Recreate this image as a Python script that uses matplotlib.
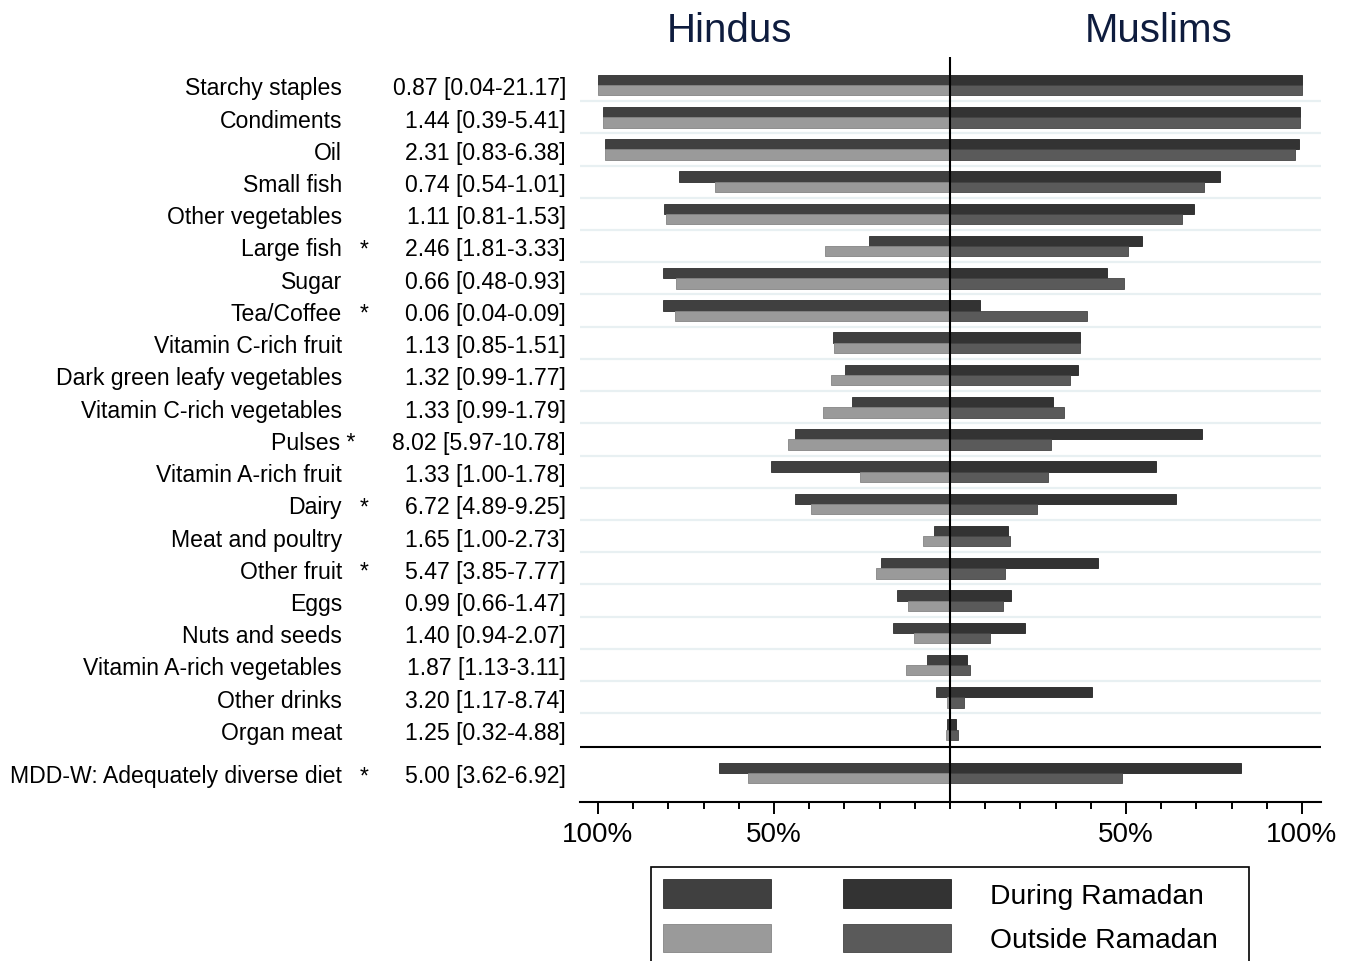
import matplotlib
matplotlib.use("Agg")
import matplotlib.pyplot as plt
import matplotlib.transforms as mtransforms
from matplotlib.patches import Rectangle
import numpy as np

plt.rcParams['font.family'] = ['Liberation Sans', 'DejaVu Sans']

# ---------------- data ----------------
categories = ["Starchy staples", "Condiments", "Oil", "Small fish", "Other vegetables",
              "Large fish", "Sugar", "Tea/Coffee", "Vitamin C-rich fruit",
              "Dark green leafy vegetables", "Vitamin C-rich vegetables", "Pulses *",
              "Vitamin A-rich fruit", "Dairy", "Meat and poultry", "Other fruit", "Eggs",
              "Nuts and seeds", "Vitamin A-rich vegetables", "Other drinks", "Organ meat",
              "MDD-W: Adequately diverse diet"]
starred = [0, 0, 0, 0, 0, 1, 0, 1, 0, 0, 0, 0, 0, 1, 0, 1, 0, 0, 0, 0, 0, 1]
odds_ratios = ["0.87 [0.04-21.17]", "1.44 [0.39-5.41]", "2.31 [0.83-6.38]", "0.74 [0.54-1.01]",
               "1.11 [0.81-1.53]", "2.46 [1.81-3.33]", "0.66 [0.48-0.93]", "0.06 [0.04-0.09]",
               "1.13 [0.85-1.51]", "1.32 [0.99-1.77]", "1.33 [0.99-1.79]", "8.02 [5.97-10.78]",
               "1.33 [1.00-1.78]", "6.72 [4.89-9.25]", "1.65 [1.00-2.73]", "5.47 [3.85-7.77]",
               "0.99 [0.66-1.47]", "1.40 [0.94-2.07]", "1.87 [1.13-3.11]", "3.20 [1.17-8.74]",
               "1.25 [0.32-4.88]", "5.00 [3.62-6.92]"]

hindu_during = [100, 98.5, 98.1, 77.0, 81.2, 22.9, 81.6, 81.6, 33.2, 29.8, 27.9, 44.0,
                50.7, 44.1, 4.5, 19.5, 15.0, 16.1, 6.4, 3.9, 0.8, 65.5]
hindu_outside = [100, 98.5, 98.1, 66.7, 80.6, 35.6, 77.7, 78.1, 33.0, 33.7, 36.0, 45.9,
                 25.6, 39.5, 7.8, 21.1, 11.8, 10.3, 12.6, 0.9, 1.2, 57.5]
muslim_during = [99.9, 99.5, 99.2, 76.6, 69.2, 54.6, 44.7, 8.6, 37.0, 36.3, 29.4, 71.6,
                 58.5, 64.3, 16.6, 42.0, 17.4, 21.3, 4.8, 40.4, 1.7, 82.7]
muslim_outside = [99.9, 99.5, 98.0, 72.3, 65.8, 50.5, 49.3, 38.9, 37.0, 34.0, 32.5, 28.6,
                  27.8, 24.7, 17.1, 15.6, 15.2, 11.4, 5.6, 4.1, 2.2, 49.0]

groups = ["Hindus", "Muslims"]
periods = ["During Ramadan", "Outside Ramadan"]
tick_values = [-100, -50, 50, 100]
tick_labels = ["100%", "50%", "50%", "100%"]

# ---------------- style ----------------
c_h_dur, c_h_out = "#404040", "#9a9a9a"
c_m_dur, c_m_out = "#333333", "#5a5a5a"
grid_c = "#e8f0f2"
title_c = "#0e1c3e"

W, H = 1352, 961
fig = plt.figure(figsize=(W / 100, H / 100), dpi=100)
ax = fig.add_axes([580 / W, 1 - 801.7 / H, (1321 - 580) / W, (801.7 - 57) / H])

n = len(categories)
ypos = np.array(list(range(n - 1)) + [n - 1 + 0.35])
bh = 0.32
off = 0.16

h_d = -np.array(hindu_during) / 100
h_o = -np.array(hindu_outside) / 100
m_d = np.array(muslim_during) / 100
m_o = np.array(muslim_outside) / 100

for i in range(n - 2):
    ax.axhline(i + 0.5, color=grid_c, lw=1.6, zorder=0)

ax.barh(ypos - off, h_d, height=bh, color=c_h_dur, edgecolor="#2e2e2e", lw=0.6, zorder=2)
ax.barh(ypos + off, h_o, height=bh, color=c_h_out, edgecolor="#858585", lw=0.6, zorder=2)
ax.barh(ypos - off, m_d, height=bh, color=c_m_dur, edgecolor="#222222", lw=0.6, zorder=2)
ax.barh(ypos + off, m_o, height=bh, color=c_m_out, edgecolor="#444444", lw=0.6, zorder=2)

ax.axvline(0, color="black", lw=1.5, zorder=3)
ax.axhline(n - 2 + 0.53, color="black", lw=1.5, zorder=3)

ax.set_xlim(-1.051, 1.054)
ax.set_ylim(22.24, -0.869)

for s in ["top", "left", "right"]:
    ax.spines[s].set_visible(False)
ax.spines["bottom"].set_linewidth(1.5)
ax.set_yticks([])
ax.set_xticks(np.array(tick_values) / 100)
ax.set_xticklabels(tick_labels, fontsize=20)
ax.set_xticks(np.round(np.arange(-1.0, 1.01, 0.1), 2)[[i for i in range(21) if i not in (0, 5, 15, 20)]], minor=True)
ax.tick_params(axis="x", which="major", length=8.5, width=1.4, pad=6)
ax.tick_params(axis="x", which="minor", length=5, width=1.4)

# row labels
tr = mtransforms.blended_transform_factory(fig.transFigure, ax.transData)
for i, (lab, st, orr) in enumerate(zip(categories, starred, odds_ratios)):
    y = ypos[i] + 0.12
    if lab.endswith(" *"):
        ax.text(355 / W, y, lab, transform=tr, ha="right", va="center", fontsize=16.6)
    else:
        ax.text(342 / W, y, lab, transform=tr, ha="right", va="center", fontsize=16.6)
    if st:
        ax.text(364 / W, y, "*", transform=tr, ha="center", va="center", fontsize=16.6)
    ax.text(566 / W, y, orr, transform=tr, ha="right", va="center", fontsize=16.6)

# group titles
fig.text(730 / W, 1 - 31 / H, groups[0], ha="center", va="center", fontsize=29, color=title_c)
fig.text(1159 / W, 1 - 31 / H, groups[1], ha="center", va="center", fontsize=29, color=title_c)

# legend (drawn manually, box runs off the bottom edge)
def px_rect(x0, y0, x1, y1, **kw):
    r = Rectangle((x0 / W, 1 - y1 / H), (x1 - x0) / W, (y1 - y0) / H,
                  transform=fig.transFigure, **kw)
    fig.add_artist(r)

px_rect(651, 867, 1249, 990, facecolor="white", edgecolor="black", lw=1.2)
px_rect(663, 879, 771, 908, facecolor=c_h_dur, edgecolor="#2e2e2e", lw=0.6)
px_rect(843, 879, 951, 908, facecolor=c_m_dur, edgecolor="#222222", lw=0.6)
px_rect(663, 924, 771, 952, facecolor=c_h_out, edgecolor="#858585", lw=0.6)
px_rect(843, 924, 951, 952, facecolor=c_m_out, edgecolor="#444444", lw=0.6)
fig.text(990 / W, 1 - 897 / H, periods[0], ha="left", va="center", fontsize=20.3)
fig.text(990 / W, 1 - 941 / H, periods[1], ha="left", va="center", fontsize=20.3)

fig.savefig("out.png", dpi=100)
